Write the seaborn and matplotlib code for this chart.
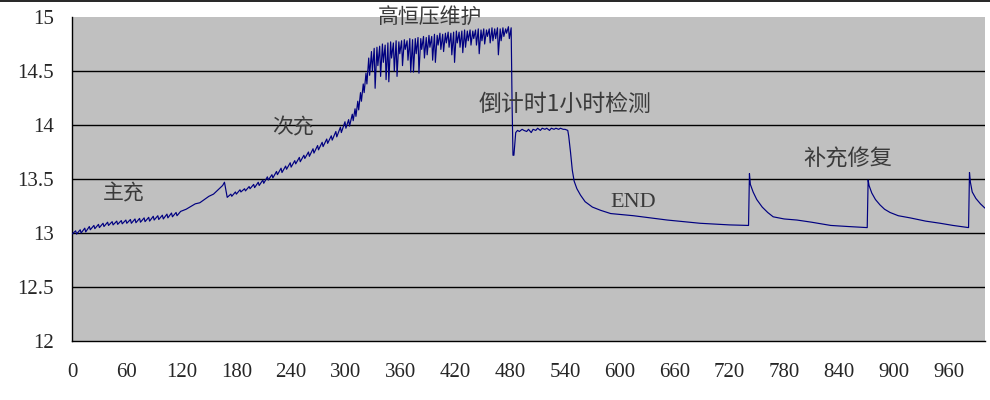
import matplotlib
matplotlib.use("Agg")
import matplotlib.pyplot as plt
from matplotlib.lines import Line2D
import numpy as np
import pandas as pd
import seaborn as sns

# ---- data ----
main_t = [0, 4, 5, 9, 10, 14, 15, 19, 20, 24, 25, 29, 30, 34, 35, 39, 40, 44, 45, 49, 50,
          54, 55, 59, 60, 64, 65, 69, 70, 74, 75, 79, 80, 84, 85, 89, 90, 94, 95, 99, 100,
          104, 105, 109, 110, 114, 115, 119, 125, 130, 135, 140, 145, 150, 155, 160, 165, 167]
main_v = [12.99, 13.02, 12.99, 13.03, 13.00, 13.045, 13.01, 13.06, 13.03, 13.07, 13.04,
          13.08, 13.05, 13.09, 13.06, 13.10, 13.07, 13.105, 13.075, 13.11, 13.08,
          13.115, 13.085, 13.12, 13.09, 13.125, 13.09, 13.13, 13.095, 13.135, 13.10,
          13.14, 13.105, 13.145, 13.11, 13.155, 13.12, 13.16, 13.125, 13.165, 13.13,
          13.175, 13.14, 13.185, 13.15, 13.19, 13.16, 13.20, 13.22, 13.245, 13.27,
          13.28, 13.31, 13.34, 13.36, 13.40, 13.44, 13.47]

second_t = [170, 174, 175, 179, 180, 184, 185, 189, 190, 194, 195, 199, 200, 204, 205, 209,
            210, 214, 215, 219, 220, 224, 225, 229, 230, 234, 235, 239, 240, 244, 245, 249,
            250, 254, 255, 259, 260, 264, 265, 269, 270, 274, 275, 279, 280, 284, 285, 289,
            290, 294, 295, 299, 300, 303, 304, 307, 308, 310, 311, 313, 314, 316, 317, 319,
            320, 322, 323, 325, 326]
second_v = [13.33, 13.36, 13.34, 13.38, 13.36, 13.40, 13.38, 13.41, 13.39, 13.43, 13.41,
            13.45, 13.42, 13.47, 13.44, 13.49, 13.46, 13.52, 13.49, 13.54, 13.51, 13.57,
            13.54, 13.60, 13.56, 13.62, 13.59, 13.65, 13.61, 13.67, 13.64, 13.70, 13.66,
            13.72, 13.69, 13.75, 13.71, 13.78, 13.74, 13.81, 13.77, 13.84, 13.80, 13.87,
            13.83, 13.90, 13.86, 13.94, 13.89, 13.98, 13.93, 14.03, 13.97, 14.05, 13.99,
            14.10, 14.04, 14.15, 14.08, 14.22, 14.14, 14.30, 14.22, 14.38, 14.30, 14.48,
            14.38, 14.62, 14.46]

hold_t = [328, 329, 331, 332, 334, 335, 337, 338, 340, 341, 343, 344, 346, 347, 349, 350,
          352, 353, 355, 356, 358, 359, 361, 362, 364, 365, 367, 368, 370, 371, 373, 374,
          376, 377, 379, 380, 382, 383, 385, 386, 388, 389, 391, 392, 394, 395, 397, 398,
          400, 401, 403, 404, 406, 407, 409, 410, 412, 413, 415, 416, 418, 419, 421, 422,
          424, 425, 427, 428, 430, 431, 433, 434, 436, 437, 439, 440, 442, 443, 445, 446,
          448, 449, 451, 452, 454, 455, 457, 458, 460, 461, 463, 464, 466, 467, 469, 470,
          472, 473, 475, 476, 478, 479, 481]
hold_v = [14.68, 14.50, 14.71, 14.34, 14.72, 14.55, 14.73, 14.45, 14.75, 14.58, 14.74,
          14.42, 14.76, 14.40, 14.77, 14.62, 14.76, 14.50, 14.78, 14.45, 14.77, 14.66,
          14.78, 14.55, 14.79, 14.70, 14.78, 14.60, 14.80, 14.49, 14.79, 14.49, 14.80,
          14.66, 14.81, 14.48, 14.80, 14.70, 14.82, 14.62, 14.81, 14.65, 14.83, 14.72,
          14.82, 14.60, 14.84, 14.58, 14.83, 14.74, 14.85, 14.70, 14.84, 14.68, 14.85,
          14.76, 14.86, 14.72, 14.85, 14.65, 14.86, 14.58, 14.87, 14.76, 14.86, 14.72,
          14.87, 14.67, 14.88, 14.72, 14.87, 14.78, 14.88, 14.74, 14.87, 14.80, 14.88,
          14.74, 14.89, 14.66, 14.88, 14.78, 14.89, 14.75, 14.88, 14.82, 14.89, 14.76,
          14.90, 14.78, 14.89, 14.80, 14.90, 14.65, 14.89, 14.78, 14.90, 14.82, 14.89,
          14.85, 14.91, 14.80, 14.90]

test_t = [482, 483, 484, 486, 488, 490, 493, 495, 498, 500, 503, 505, 508, 510, 513, 515,
          518, 520, 523, 525, 528, 530, 533, 535, 538, 540, 543]
test_v = [14.20, 13.72, 13.72, 13.93, 13.95, 13.94, 13.96, 13.95, 13.94, 13.96, 13.93,
          13.96, 13.95, 13.97, 13.95, 13.97, 13.96, 13.97, 13.95, 13.97, 13.96, 13.97,
          13.96, 13.97, 13.96, 13.96, 13.95]

rest_t = [544, 546, 548, 550, 553, 557, 562, 570, 579, 590, 615, 652, 688, 720, 741,
          742, 743, 746, 750, 756, 762, 768, 780, 794, 810, 831, 850, 871,
          872, 873, 876, 880, 885, 890, 896, 905, 918, 935, 951, 965, 982,
          983, 984, 986, 990, 995, 1000]
rest_v = [13.90, 13.75, 13.58, 13.48, 13.41, 13.35, 13.29, 13.24, 13.21, 13.18, 13.16,
          13.12, 13.09, 13.075, 13.07,
          13.55, 13.45, 13.38, 13.31, 13.24, 13.19, 13.15, 13.13, 13.12, 13.10, 13.07,
          13.06, 13.05,
          13.49, 13.44, 13.37, 13.31, 13.26, 13.22, 13.19, 13.16, 13.14, 13.11, 13.09,
          13.07, 13.05,
          13.56, 13.47, 13.38, 13.32, 13.27, 13.23]

x_ticks = list(range(0, 961, 60))
y_ticks = [12, 12.5, 13, 13.5, 14, 14.5, 15]
y_tick_labels = ["12", "12.5", "13", "13.5", "14", "14.5", "15"]

notes = ["主充", "次充", "高恒压维护", "倒计时1小时检测", "END", "补充修复"]
note_x = [57, 242, 392, 540, 615, 850]
note_y = [13.37, 13.98, 15.0, 14.19, 13.28, 13.69]
note_size = [15, 15, 15, 16.5, 16, 16]

# ---- build table ----
df = pd.DataFrame({
    "t": main_t + second_t + hold_t + test_t + rest_t,
    "v": main_v + second_v + hold_v + test_v + rest_v,
})

sns.set_style("white")
plt.rcParams["font.family"] = ["Liberation Serif", "DejaVu Serif"]

fig = plt.figure(figsize=(9.9, 4.0), dpi=100)
ax = fig.add_axes([72 / 990, 1 - 341 / 400, (985 - 72) / 990, (341 - 17) / 400])
ax.set_facecolor("#C0C0C0")

sns.lineplot(data=df, x="t", y="v", ax=ax, color="#000080", linewidth=0.85,
             estimator=None, sort=False, zorder=3)

ax.set_xlim(0, 1000)
ax.set_ylim(12, 15)
ax.set_xticks(x_ticks)
ax.set_xticklabels([str(v) for v in x_ticks], fontsize=15)
ax.set_yticks(y_ticks)
ax.set_yticklabels(y_tick_labels, fontsize=15)
ax.set_xlabel("")
ax.set_ylabel("")

for y in y_ticks[1:-1]:
    ax.axhline(y, color="black", linewidth=1.0, zorder=2)

ax.tick_params(axis="x", direction="in", length=5, width=1, color="black", pad=16)
ax.tick_params(axis="y", length=0, pad=13)

for side in ["top", "right"]:
    ax.spines[side].set_visible(False)
for side in ["left", "bottom"]:
    ax.spines[side].set_color("black")
    ax.spines[side].set_linewidth(1.0)

for s, x, y, fs in zip(notes, note_x, note_y, note_size):
    fam = ["Liberation Serif"] if s.isascii() else ["Noto Sans CJK SC", "Liberation Serif"]
    ax.text(x, y, s, ha="center", va="center", fontsize=fs, color="#3a3a3a",
            family=fam, clip_on=False, zorder=4)

fig.add_artist(Line2D([0, 1], [0.997, 0.997], color="black", linewidth=1.2,
                      transform=fig.transFigure))

fig.savefig("out.png", dpi=100, facecolor="white")
